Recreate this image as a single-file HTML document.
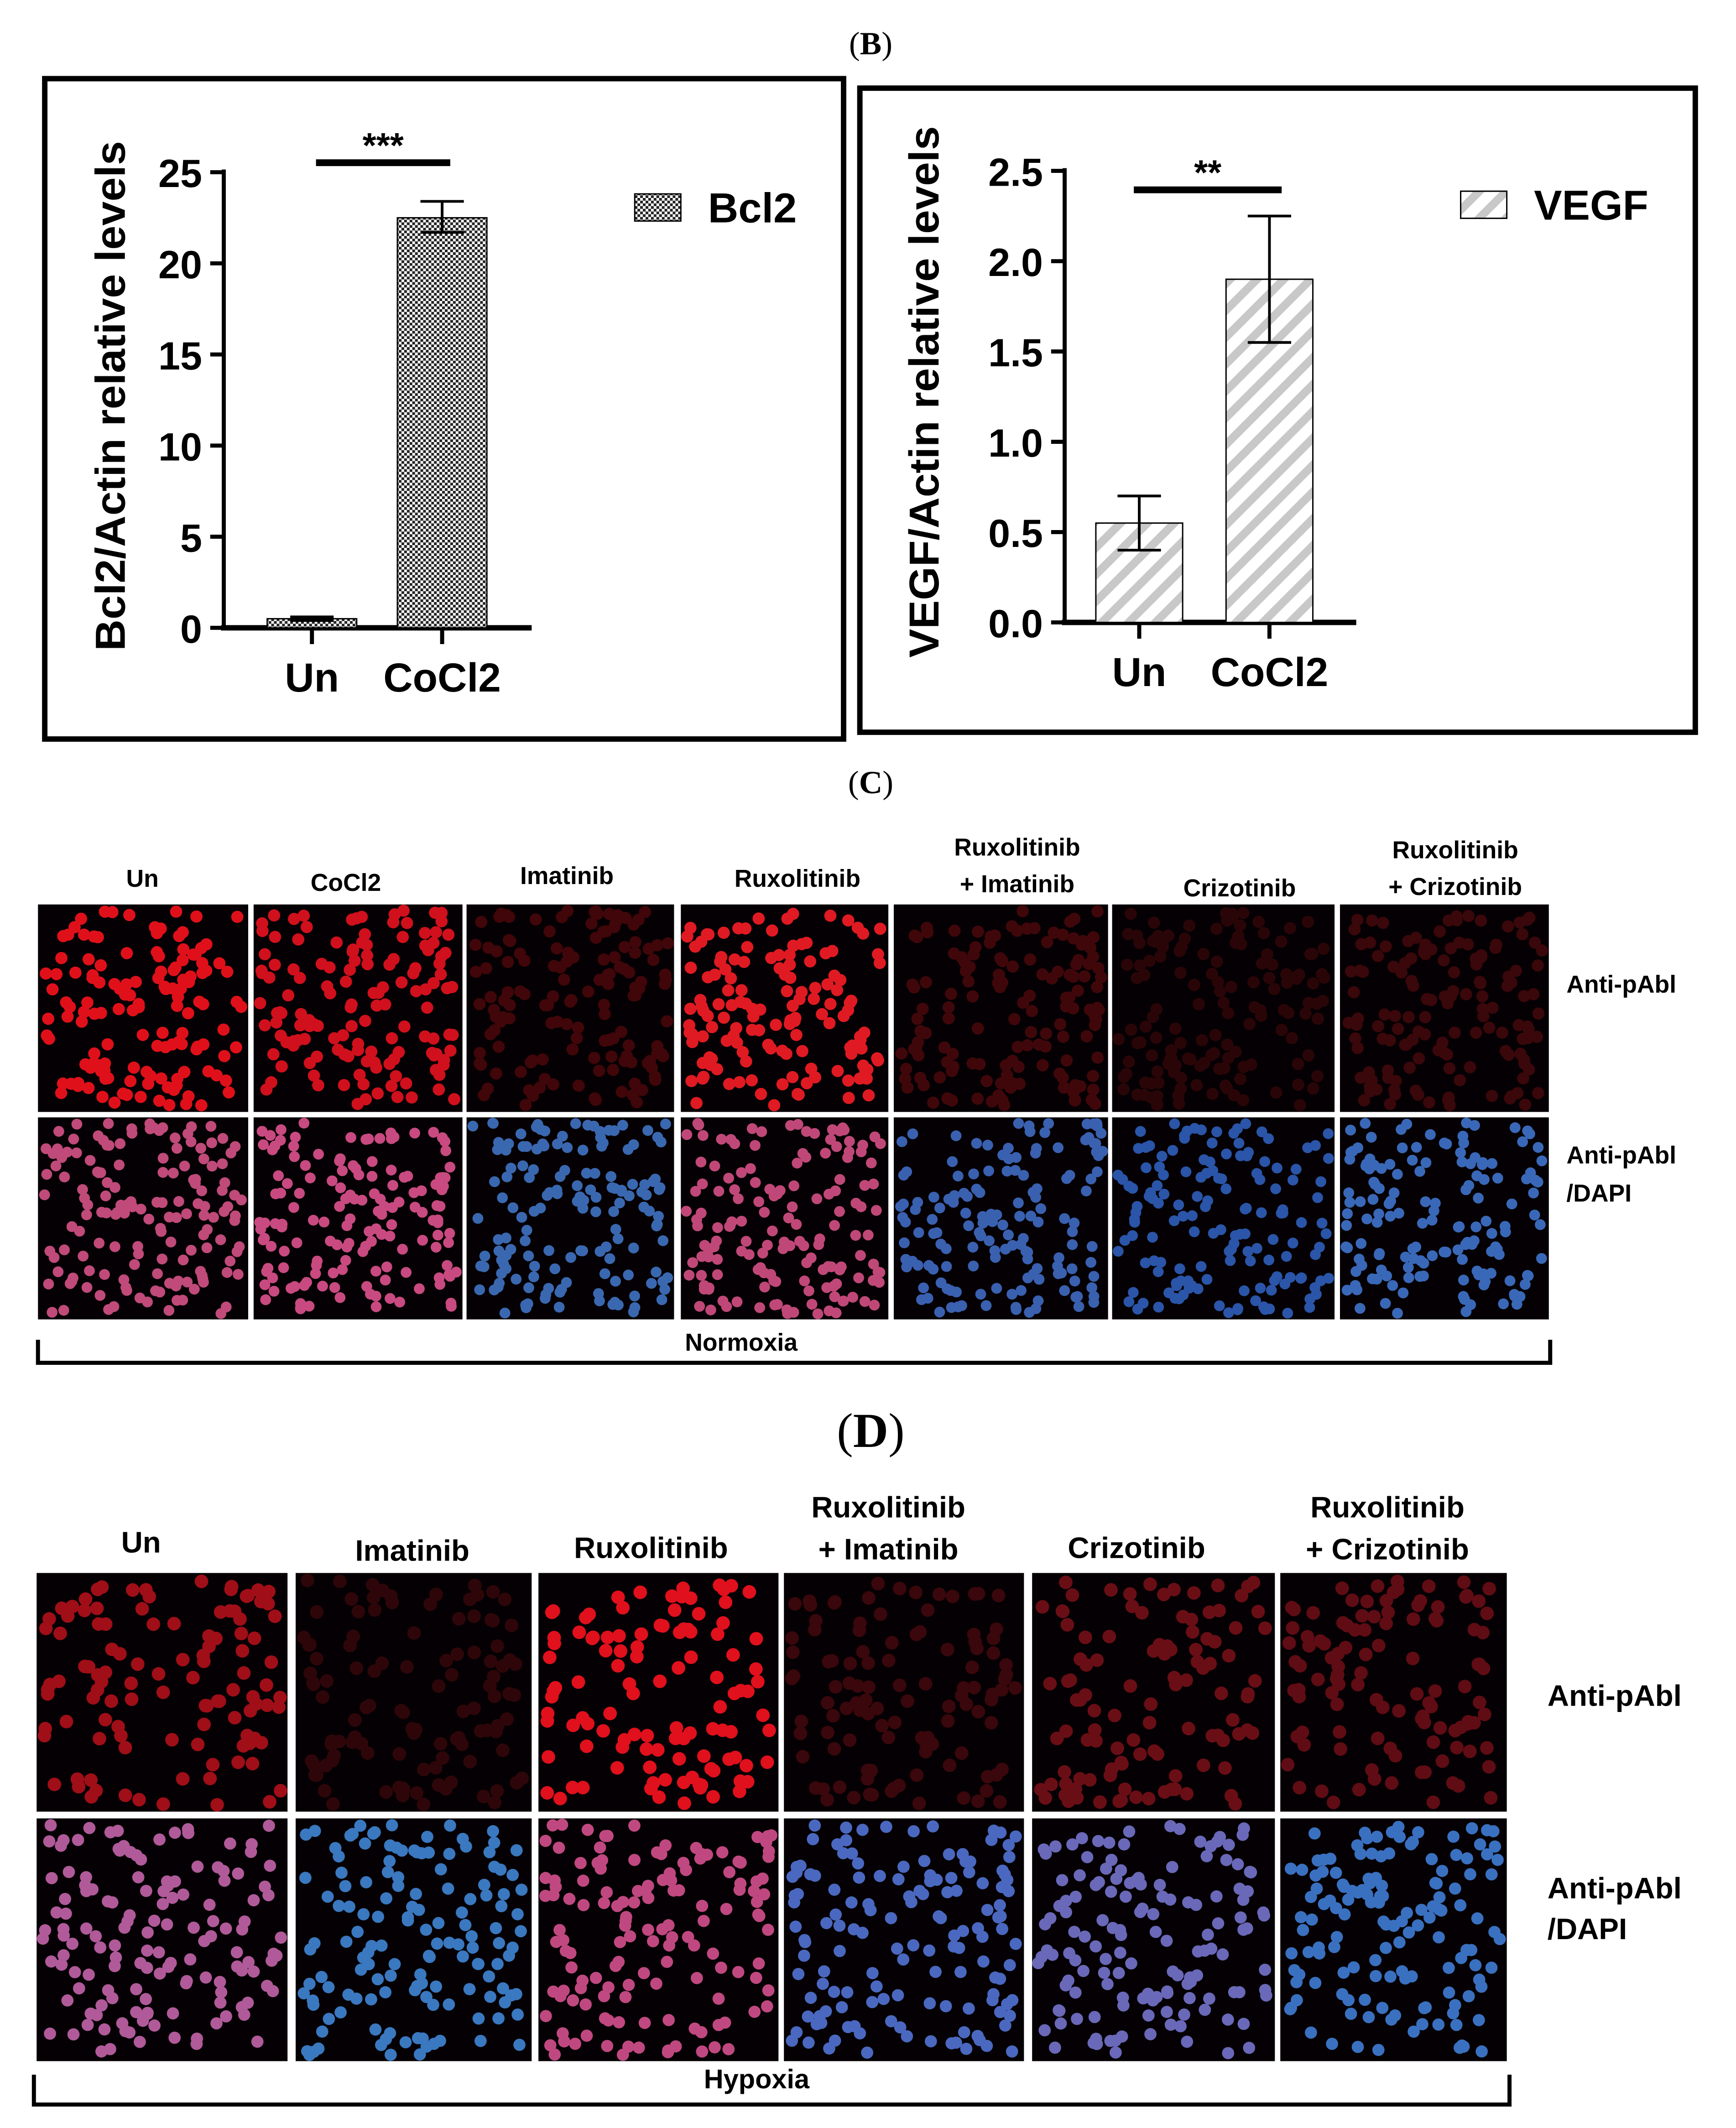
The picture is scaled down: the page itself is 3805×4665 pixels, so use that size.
<!DOCTYPE html>
<html><head><meta charset="utf-8"><style>
html,body{margin:0;padding:0;background:#fff}
svg{display:block}
text{font-family:"Liberation Sans",Arial,sans-serif;font-weight:bold}
.ser{font-family:"Liberation Serif",serif;font-weight:normal}
</style></head><body>
<svg id="fig" width="3805" height="4665" viewBox="0 0 1280 1569.3" xmlns="http://www.w3.org/2000/svg">
<defs>
<pattern id="checker" width="4" height="4" patternUnits="userSpaceOnUse"><rect width="4" height="4" fill="#fff"/><rect width="2" height="2" fill="#222"/><rect x="2" y="2" width="2" height="2" fill="#222"/></pattern>
<pattern id="stripe" width="14" height="14" patternUnits="userSpaceOnUse" patternTransform="rotate(45)"><rect width="14" height="14" fill="#fff"/><rect width="6" height="14" fill="#c8c8c8"/></pattern>
</defs>
<text class="ser" x="642" y="40" font-size="24" text-anchor="middle">(<tspan font-weight="bold">B</tspan>)</text>
<rect x="33" y="58" width="589" height="487" fill="none" stroke="#000" stroke-width="4"/>
<rect x="634" y="65" width="616" height="475" fill="none" stroke="#000" stroke-width="4"/>
<g id="c1"></g>
<g id="c2"></g>
<text class="ser" x="642" y="585" font-size="24" text-anchor="middle">(<tspan font-weight="bold">C</tspan>)</text>
<g id="pc"></g>
<text class="ser" x="642" y="1067" font-size="36" text-anchor="middle">(<tspan font-weight="bold">D</tspan>)</text>
<g id="pd"></g>
</svg>
<script>
const NS="http://www.w3.org/2000/svg";
// Chart B1 data
const bclCategories=["Un","CoCl2"];
const bclValues=[0.5,22.5];
const bclErrLow=[0.4,21.7];
const bclErrHigh=[0.6,23.4];
const bclTicks=[0,5,10,15,20,25];
// Chart B2 data
const vegfCategories=["Un","CoCl2"];
const vegfValues=[0.55,1.9];
const vegfErrLow=[0.4,1.55];
const vegfErrHigh=[0.7,2.25];
const vegfTicks=["0.0","0.5","1.0","1.5","2.0","2.5"];

function el(p,tag,attrs,txt){const e=document.createElementNS(NS,tag);for(const k in attrs)e.setAttribute(k,attrs[k]);if(txt!==undefined)e.textContent=txt;p.appendChild(e);return e;}

function chart(g,cfg){
  const y=v=>cfg.y0-(v-cfg.vmin)/(cfg.vmax-cfg.vmin)*(cfg.y0-cfg.yTop);
  const yl=el(g,'line',{x1:cfg.ax,y1:cfg.yTop-2,x2:cfg.ax,y2:cfg.y0,stroke:'#000','stroke-width':3});
  
  
  const xl=el(g,'line',{x1:cfg.ax-2,y1:cfg.y0,x2:cfg.axEnd,y2:cfg.y0,stroke:'#000','stroke-width':4});
  
  
  cfg.ticks.forEach(t=>{const v=parseFloat(t);const yy=y(v);
    el(g,'line',{x1:cfg.ax-10,y1:yy,x2:cfg.ax,y2:yy,stroke:'#000','stroke-width':3});
    const tl=el(g,'text',{x:cfg.ax-16,y:yy+11,'font-size':29,'text-anchor':'end'},String(t));
    
    
  });
  cfg.cats.forEach((c,i)=>{const cx=cfg.xc[i];const x0=cx-cfg.bw/2;const top=y(cfg.vals[i]);
    const b=el(g,'rect',{x:x0,y:top,width:cfg.bw,height:cfg.y0-top,fill:cfg.fill,stroke:'#000','stroke-width':1});
    
    
    const yh=y(cfg.hi[i]),ylo=y(cfg.lo[i]);
    const eb=el(g,'path',{d:`M${cx},${yh}V${ylo}M${cx-16},${yh}H${cx+16}M${cx-16},${ylo}H${cx+16}`,stroke:'#000','stroke-width':2,fill:'none'});
    
    
    el(g,'line',{x1:cx,y1:cfg.y0,x2:cx,y2:cfg.y0+12,stroke:'#000','stroke-width':3});
    const xt=el(g,'text',{x:cx,y:cfg.y0+47,'font-size':30,'text-anchor':'middle'},c);
    
    
  });
  const sb=el(g,'line',{x1:cfg.sig[0],y1:cfg.sig[2],x2:cfg.sig[1],y2:cfg.sig[2],stroke:'#000','stroke-width':5});
  
  
  const st=el(g,'text',{x:(cfg.sig[0]+cfg.sig[1])/2,y:cfg.sig[2]-4,'font-size':26,'text-anchor':'middle'},cfg.stars);
  
  
  const yt=el(g,'text',{transform:`translate(${cfg.tx},${cfg.ty}) rotate(-90)`,'font-size':31,'text-anchor':'middle','textLength':cfg.tl,'lengthAdjust':'spacingAndGlyphs'},cfg.title);
  
  
  const lb=el(g,'rect',{x:cfg.leg[0],y:cfg.leg[1],width:34,height:20,fill:cfg.fill,stroke:'#000','stroke-width':1});
  
  
  const lt=el(g,'text',{x:cfg.leg[0]+54,y:cfg.leg[1]+21,'font-size':31},cfg.legText);
  
  
}
chart(document.getElementById('c1'),{ax:165,axEnd:392,y0:463,yTop:127,vmin:0,vmax:25,ticks:bclTicks,cats:bclCategories,vals:bclValues,lo:bclErrLow,hi:bclErrHigh,xc:[230,326],bw:66,fill:'url(#checker)',sig:[233,332,120],stars:'***',title:'Bcl2/Actin relative levels',tl:376,tx:92,ty:292,leg:[468,143],legText:'Bcl2'});
chart(document.getElementById('c2'),{ax:785,axEnd:1000,y0:459,yTop:126,vmin:0,vmax:2.5,ticks:vegfTicks,cats:vegfCategories,vals:vegfValues,lo:vegfErrLow,hi:vegfErrHigh,xc:[840,936],bw:64,fill:'url(#stripe)',sig:[836,945,140],stars:'**',title:'VEGF/Actin relative levels',tl:392,tx:692,ty:289,leg:[1077,141],legText:'VEGF'});

// micrographs
let seed=12345;function rnd(){seed=(seed*1103515245+12345)%2147483648;return seed/2147483648;}
function micro(g,x,y,w,h,col,n,r,name){
  const gg=el(g,'g',{});
  
  
  el(gg,'rect',{x:x,y:y,width:w,height:h,fill:'#050003'});
  let s='';
  for(let i=0;i<n;i++){const cx=x+r+rnd()*(w-2*r),cy=y+r+rnd()*(h-2*r);s+=`M${cx-r},${cy}a${r},${r} 0 1,0 ${2*r},0a${r},${r} 0 1,0 ${-2*r},0`;}
  el(gg,'path',{d:s,fill:col});
}
function header(g,x,y,lines,fs){lines.forEach((l,i)=>{const t=el(g,'text',{x:x,y:y+i*27,'font-size':fs,'text-anchor':'middle'},l);
  
  });}
function label(g,x,y,txt,fs){const t=el(g,'text',{x:x,y:y,'font-size':fs},txt);
  
  }

const pc=document.getElementById('pc');
const cCols=[[28,183],[187,341],[344,497],[502,655],[659,817],[820,984],[988,1142]];
const cRed=['#e0101a','#d0101c','#400609','#e01a22','#40070b','#2a0508','#3a070b'];
const cMer=['#c04a7a','#c84a80','#3a68b0','#c04878','#3a60b0','#2a55a8','#3a68b8'];
cCols.forEach((c,i)=>{micro(pc,c[0],667,c[1]-c[0],153,cRed[i],140,4.5,'normoxia-antipabl-image');micro(pc,c[0],824,c[1]-c[0],149,cMer[i],150,4,'normoxia-merged-image');});
header(pc,105,654,['Un'],18);header(pc,255,657,['CoCl2'],18);header(pc,418,652,['Imatinib'],18);header(pc,588,654,['Ruxolitinib'],18);
header(pc,750,631,['Ruxolitinib','+ Imatinib'],18);header(pc,914,661,['Crizotinib'],18);header(pc,1073,633,['Ruxolitinib','+ Crizotinib'],18);
label(pc,1155,732,'Anti-pAbl',18);label(pc,1155,858,'Anti-pAbl',18);label(pc,1155,886,'/DAPI',18);
el(pc,'path',{d:'M28,988V1005H1143V988',stroke:'#000','stroke-width':3,fill:'none'});
label(pc,505,996,'Normoxia',18);

const pd=document.getElementById('pd');
const dCols=[[27,212],[218,392],[397,574],[578,755],[761,940],[944,1111]];
const dRed=['#a00e18','#2e0609','#e0101c','#3a070c','#6a0e16','#600c14'];
const dMer=['#b05a9a','#3a78c0','#c04880','#4a68c0','#6a68b8','#3a70c0'];
dCols.forEach((c,i)=>{micro(pd,c[0],1160,c[1]-c[0],176,dRed[i],110,5,'hypoxia-antipabl-image');micro(pd,c[0],1341,c[1]-c[0],179,dMer[i],140,4.5,'hypoxia-merged-image');});
header(pd,104,1145,['Un'],22);header(pd,304,1151,['Imatinib'],22);header(pd,480,1149,['Ruxolitinib'],22);
header(pd,655,1119,['Ruxolitinib','+ Imatinib'],22);pd.lastChild.setAttribute('y',1150);
header(pd,838,1149,['Crizotinib'],22);header(pd,1023,1119,['Ruxolitinib','+ Crizotinib'],22);pd.lastChild.setAttribute('y',1150);
label(pd,1141,1258,'Anti-pAbl',22);label(pd,1141,1400,'Anti-pAbl',22);label(pd,1141,1430,'/DAPI',22);
el(pd,'path',{d:'M25,1530V1552H1113V1530',stroke:'#000','stroke-width':3,fill:'none'});
label(pd,519,1540,'Hypoxia',20);
</script>
</body></html>
